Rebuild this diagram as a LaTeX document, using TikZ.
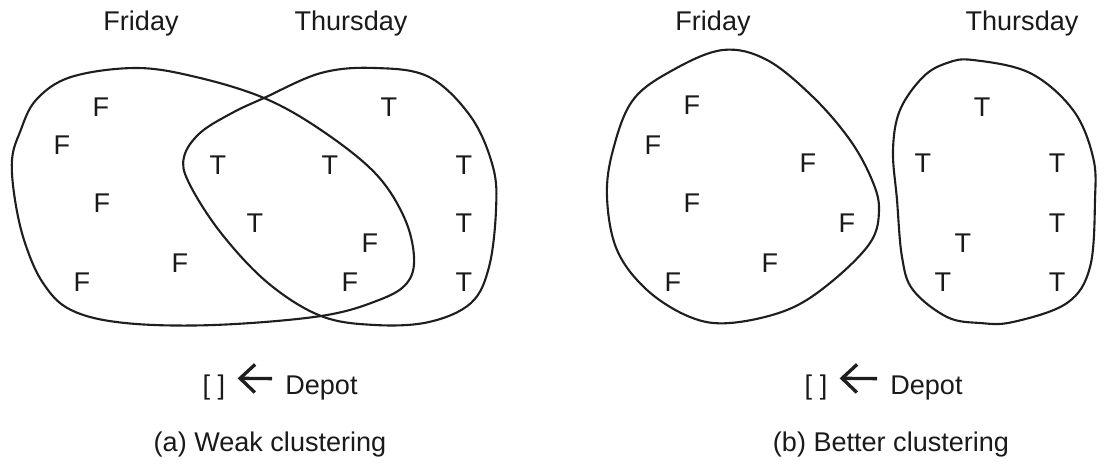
\documentclass[tikz,border=0pt]{standalone}
\usepackage{fontspec}
\setmainfont{Liberation Sans}
\usetikzlibrary{arrows.meta, positioning}
\definecolor{inkline}{HTML}{1E1E1E}
\definecolor{inktext}{HTML}{1A1A1A}
\newcommand{\visit}[4]{%
  \node[visit] (#1) at (#2,#3) {#4};}
\tikzset{
  visit/.style={inner sep=0pt, text=inktext},
  cluster/.style={draw=inkline, line width=1.2pt},
  daylabel/.style={inner sep=0pt, anchor=base, text=inktext},
  depotarrow/.style={-{Straight Barb[length=8.5pt, width=16pt]}, inkline,
                     line width=1.9pt, shorten >=0.24cm, shorten <=0.26cm},
}

\begin{document}
\begin{tikzpicture}[x=0.02cm, y=-0.02cm, font=\fontsize{15.4}{18}\selectfont]
  \useasboundingbox (0,0) rectangle (1105,463);

  % (a) weak clustering
  \node[daylabel] (friA) at (141,31) {Friday};
  \node[daylabel] (thuA) at (351,31) {Thursday};
  \draw[cluster] plot[smooth cycle, tension=0.6] coordinates {
    (12,160) (20,132) (36,100) (71,77) (136,68) (196,77) (264,98)
    (321,130) (375,173) (404,217) (414,257) (407,283) (379,300)
    (321,316) (214,325) (125,323) (71,310) (43,283) (25,243) (15,200)};
  \draw[cluster] plot[smooth cycle, tension=0.6] coordinates {
    (264,98) (321,73) (375,68) (429,77) (471,117) (493,167) (496,210)
    (489,267) (471,303) (429,322) (375,325) (321,316) (268,283)
    (221,233) (189,183) (184,157) (200,133) (232,113)};
  \visit{fa1}{101}{107}{F}
  \visit{fa2}{62}{145}{F}
  \visit{fa3}{102}{203}{F}
  \visit{fa4}{180}{263}{F}
  \visit{fa5}{82}{282}{F}
  \visit{fa6}{370}{243}{F}
  \visit{fa7}{350}{282}{F}
  \visit{ta1}{389}{107}{T}
  \visit{ta2}{218}{165}{T}
  \visit{ta3}{330}{165}{T}
  \visit{ta4}{464}{165}{T}
  \visit{ta5}{255}{223}{T}
  \visit{ta6}{464}{223}{T}
  \visit{ta7}{464}{282}{T}
  \node[daylabel] (brkA) at (214,394) {[ ]};
  \node[daylabel, anchor=base west] (depA) at (285,394) {Depot};
  \draw[depotarrow] ([yshift=5pt]depA.west) -- ([yshift=5pt]brkA.east);
  \node[daylabel] (capA) at (270,451) {(a) Weak clustering};

  % (b) better clustering
  \node[daylabel] (friB) at (713,31) {Friday};
  \node[daylabel] (thuB) at (1022,31) {Thursday};
  \draw[cluster] plot[smooth cycle, tension=0.6] coordinates {
    (723,50) (767,60) (813,97) (850,140) (872,180) (879,210) (870,243)
    (830,283) (787,310) (730,323) (690,317) (647,290) (617,250)
    (607,197) (613,150) (633,100) (673,70)};
  \draw[cluster] plot[smooth cycle, tension=0.6] coordinates {
    (973,60) (1030,73) (1073,110) (1093,157) (1095,200) (1090,267)
    (1067,303) (1013,322) (980,323) (947,317) (913,290) (902,257)
    (897,200) (893,150) (900,110) (923,77) (947,63)};
  \visit{fb1}{692}{105}{F}
  \visit{fb2}{653}{145}{F}
  \visit{fb3}{808}{163}{F}
  \visit{fb4}{692}{203}{F}
  \visit{fb5}{847}{223}{F}
  \visit{fb6}{770}{263}{F}
  \visit{fb7}{673}{282}{F}
  \visit{tb1}{982}{107}{T}
  \visit{tb2}{923}{163}{T}
  \visit{tb3}{1057}{163}{T}
  \visit{tb4}{1057}{223}{T}
  \visit{tb5}{963}{243}{T}
  \visit{tb6}{943}{282}{T}
  \visit{tb7}{1057}{282}{T}
  \node[daylabel] (brkB) at (816,394) {[ ]};
  \node[daylabel, anchor=base west] (depB) at (890,394) {Depot};
  \draw[depotarrow] ([yshift=5pt]depB.west) -- ([yshift=5pt]brkB.east);
  \node[daylabel] (capB) at (891,451) {(b) Better clustering};
\end{tikzpicture}
\end{document}
